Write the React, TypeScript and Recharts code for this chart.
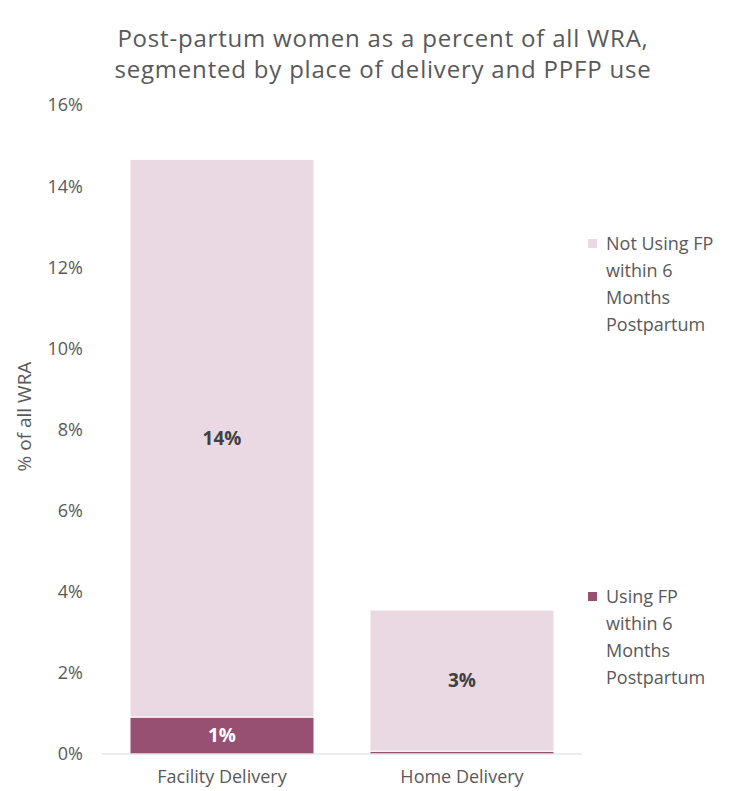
import React from "react";
import { BarChart, Bar, XAxis, YAxis, LabelList } from "recharts";

const categories = ["Facility Delivery", "Home Delivery"];
const usingFP = [0.91, 0.07];
const notUsingFP = [13.75, 3.48];
const yTicks = [0, 2, 4, 6, 8, 10, 12, 14, 16];

const USING_LABEL = "Using FP within 6 Months Postpartum";
const NOT_USING_LABEL = "Not Using FP within 6 Months Postpartum";

const data = categories.map((name, i) => ({
  name,
  using: usingFP[i],
  notUsing: notUsingFP[i],
}));

const FONT = "'Open Sans', 'Liberation Sans', sans-serif";
const DARK = "#974F72";
const LIGHT = "#EAD9E3";
const GREY = "#595959";

const fmt = (v: any) => (Number(v) >= 0.5 ? `${Math.round(Number(v))}%` : "");

function LegendBox() {
  const entry = (color: string, lines: string[], top: number) => (
    <div style={{ position: "absolute", left: 0, top, display: "flex" }}>
      <div style={{ width: 9, height: 9, background: color, marginTop: 9, marginRight: 9 }} />
      <div style={{ fontSize: 18, lineHeight: "27px", color: GREY }}>
        {lines.map((l) => (
          <div key={l}>{l}</div>
        ))}
      </div>
    </div>
  );
  return (
    <div style={{ position: "absolute", left: 588, top: 230, width: 143, height: 470, fontFamily: FONT }}>
      {entry(LIGHT, ["Not Using FP", "within 6", "Months", "Postpartum"], 0)}
      {entry(DARK, ["Using FP", "within 6", "Months", "Postpartum"], 353)}
    </div>
  );
}

export default function App() {
  return (
    <div style={{ position: "absolute", left: 0, top: 0, width: 731, height: 791, background: "#fff", fontFamily: FONT }}>
      <div
        style={{
          position: "absolute",
          left: 0,
          top: 22,
          width: 766,
          textAlign: "center",
          fontSize: 24,
          letterSpacing: 0.8,
          lineHeight: "31px",
          color: GREY,
        }}
      >
        Post-partum women as a percent of all WRA,
        <br />
        segmented by place of delivery and PPFP use
      </div>
      <BarChart
        width={731}
        height={791}
        data={data}
        margin={{ top: 105, right: 149, bottom: 0, left: 0 }}
        barCategoryGap={28}
      >
        <XAxis
          dataKey="name"
          axisLine={{ stroke: "#D9D9D9" }}
          tickLine={false}
          tickSize={0}
          tickMargin={16}
          height={37}
          tick={{ fill: GREY, fontSize: 18, fontFamily: FONT }}
        />
        <YAxis
          domain={[0, 16]}
          ticks={yTicks}
          tickFormatter={(v) => `${v}%`}
          axisLine={false}
          tickLine={false}
          tickSize={0}
          tickMargin={19}
          width={102}
          tick={{ fill: GREY, fontSize: 18, fontFamily: FONT }}
          label={{
            content: (props: any) => {
              const vb = props.viewBox;
              const x = vb.x + 24;
              const y = vb.y + vb.height / 2 - 13;
              return (
                <text
                  x={x}
                  y={y}
                  transform={`rotate(-90 ${x} ${y})`}
                  textAnchor="middle"
                  dominantBaseline="central"
                  fill={GREY}
                  fontSize={19}
                  fontFamily={FONT}
                >
                  % of all WRA
                </text>
              );
            },
          }}
        />
        <Bar dataKey="using" name={USING_LABEL} stackId="a" fill={DARK} stroke="#fff" strokeWidth={1} isAnimationActive={false}>
          <LabelList
            dataKey="using"
            position="center"
            formatter={fmt}
            fill="#fff"
            fontSize={19}
            fontWeight="bold"
            fontFamily={FONT}
          />
        </Bar>
        <Bar dataKey="notUsing" name={NOT_USING_LABEL} stackId="a" fill={LIGHT} stroke="#fff" strokeWidth={1} isAnimationActive={false}>
          <LabelList
            dataKey="notUsing"
            position="center"
            formatter={fmt}
            fill="#404040"
            fontSize={19}
            fontWeight="bold"
            fontFamily={FONT}
          />
        </Bar>
      </BarChart>
      <LegendBox />
    </div>
  );
}
